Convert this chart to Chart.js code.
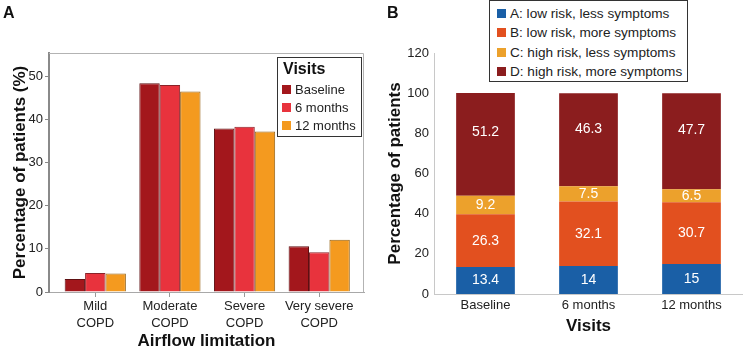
<!DOCTYPE html>
<html>
<head>
<meta charset="utf-8">
<script src="https://cdn.jsdelivr.net/npm/chart.js@4/dist/chart.umd.min.js"></script>
<style>
  body { margin: 0; width: 743px; height: 348px; overflow: hidden; background: #fff; font-family: "Liberation Sans", Arial, sans-serif; color: #222; }
  .panel { position: absolute; top: 0; height: 348px; }
  .tag { position: absolute; font-weight: bold; font-size: 16px; line-height: 16px; color: #111; }
  .legend { position: absolute; background: #fff; border: 1px solid #333; box-sizing: border-box; }
  .row { display: flex; align-items: center; white-space: nowrap; }
  .sw { display: inline-block; width: 9px; height: 9px; }
</style>
</head>
<body>
<div class="panel" style="left:0;width:370px"><canvas id="chartA" width="370" height="348"></canvas></div>
<div class="panel" style="left:370px;width:373px"><canvas id="chartB" width="373" height="348"></canvas></div>
<div class="tag" style="left:3px;top:5px">A</div>
<div class="tag" style="left:387px;top:5px">B</div>
<div class="legend" id="legendA" style="left:277px;top:57px;width:85px;height:80px;padding:0 0 1px 4px"></div>
<div class="legend" id="legendB" style="left:489px;top:0px;width:199px;height:82px;padding:3px 0 0 7px"></div>
<script>
// === DATA ===
const airflowCats = [['Mild', 'COPD'], ['Moderate', 'COPD'], ['Severe', 'COPD'], ['Very severe', 'COPD']];
const visitNames = ['Baseline', '6 months', '12 months'];
const airflowBaseline = [3.0, 48.4, 37.9, 10.6];
const airflow6m = [4.4, 48.0, 38.3, 9.2];
const airflow12m = [4.3, 46.5, 37.2, 12.1];

const groupNames = ['A: low risk, less symptoms', 'B: low risk, more symptoms', 'C: high risk, less symptoms', 'D: high risk, more symptoms'];
const groupA = [13.4, 14, 15];
const groupB = [26.3, 32.1, 30.7];
const groupC = [9.2, 7.5, 6.5];
const groupD = [51.2, 46.3, 47.7];

const visitColors = ['#a3171c', '#e8333d', '#f49a1f'];
const visitBorders = ['#5e1012', '#8a2228', '#946014'];
const groupColors = ['#1a5fa6', '#e2501f', '#eca12c', '#8b1d1e'];

const FONT = '"Liberation Sans", Arial, sans-serif';
const TXT = '#222';

// === LEGENDS (html) ===
function buildLegend(el, title, names, colors, rowH, fontSize) {
    if (title) {
        const t = document.createElement('div');
        t.textContent = title;
        t.style.cssText = 'font-weight:bold;font-size:16px;line-height:22px;color:#111;padding-left:1px';
        el.appendChild(t);
    }
    names.forEach((n, i) => {
        const r = document.createElement('div');
        r.className = 'row';
        r.style.height = rowH + 'px';
        r.style.fontSize = fontSize + 'px';
        r.innerHTML = `<span class="sw" style="background:${colors[i]}"></span><span style="margin-left:4px">${n}</span>`;
        el.appendChild(r);
    });
}
buildLegend(document.getElementById('legendA'), 'Visits', visitNames, visitColors, 18, 13);
buildLegend(document.getElementById('legendB'), null, groupNames, groupColors, 19.3, 13.6);

// === PANEL A ===
const frameA = {
    id: 'frameA',
    afterDraw(chart) {
        const a = chart.chartArea, c = chart.ctx;
        c.save();
        c.strokeStyle = '#b3b3b3';
        c.lineWidth = 1;
        c.beginPath();
        c.moveTo(a.left, a.top + 0.5);
        c.lineTo(a.right - 0.5, a.top + 0.5);
        c.lineTo(a.right - 0.5, a.bottom);
        c.stroke();
        c.restore();
    }
};

const seriesA = [airflowBaseline, airflow6m, airflow12m];
new Chart(document.getElementById('chartA'), {
    type: 'bar',
    data: {
        datasets: seriesA.map((vals, k) => ({
            label: visitNames[k],
            data: vals.map((v, i) => ({ x: i, y: v })),
            backgroundColor: visitColors[k],
            borderColor: visitBorders[k],
            borderWidth: 1,
            barPercentage: 1,
            categoryPercentage: 0.82
        }))
    },
    options: {
        responsive: false, animation: false,
        layout: { padding: { top: 53, right: 6, left: 0, bottom: 0 } },
        plugins: { legend: { display: false }, tooltip: { enabled: false } },
        scales: {
            x: {
                type: 'linear', min: -0.62, max: 3.6, offset: false,
                afterBuildTicks: s => { s.ticks = airflowCats.map((_, i) => ({ value: i })); },
                afterFit: s => { s.height = 56; },
                grid: { offset: false, drawOnChartArea: false, drawTicks: true, tickLength: 5, color: '#999' },
                border: { color: '#a8a8a8', width: 1 },
                ticks: { color: TXT, padding: 1, maxRotation: 0, autoSkip: false, font: { family: FONT, size: 13, lineHeight: 1.3 }, callback: v => airflowCats[v] },
                title: { display: true, text: 'Airflow limitation', color: '#111', padding: { top: 0, bottom: -2 }, font: { family: FONT, size: 17, weight: 'bold', lineHeight: 1 } }
            },
            y: {
                min: 0, max: 55.4,
                afterBuildTicks: s => { s.ticks = s.ticks.filter(t => t.value % 10 === 0); },
                afterFit: s => { s.width = 49; },
                grid: { drawOnChartArea: false, drawTicks: true, tickLength: 4, color: '#888' },
                border: { color: '#8a8a8a', width: 2 },
                ticks: { stepSize: 10, color: TXT, padding: 2, font: { family: FONT, size: 13 } },
                title: { display: true, text: 'Percentage of patients (%)', color: '#111', padding: { top: 10, bottom: 0 }, font: { family: FONT, size: 17, weight: 'bold' } }
            }
        }
    },
    plugins: [frameA]
});

// === PANEL B ===
// value labels: centred in each segment, top segment label sits higher
const segLabels = {
    id: 'segLabels',
    afterDatasetsDraw(chart) {
        const c = chart.ctx;
        const last = chart.data.datasets.length - 1;
        c.save();
        c.fillStyle = '#fff';
        c.font = `14px ${FONT}`;
        c.textAlign = 'center';
        c.textBaseline = 'middle';
        chart.data.datasets.forEach((ds, d) => {
            chart.getDatasetMeta(d).data.forEach((bar, i) => {
                const f = d === last ? 0.38 : 0.5;
                c.fillText(String(ds.data[i]), bar.x, bar.y + (bar.base - bar.y) * f);
            });
        });
        c.restore();
    }
};

const seriesB = [groupA, groupB, groupC, groupD];
new Chart(document.getElementById('chartB'), {
    type: 'bar',
    data: {
        labels: visitNames,
        datasets: seriesB.map((vals, k) => ({
            label: groupNames[k],
            data: vals,
            backgroundColor: groupColors[k],
            borderWidth: 0,
            barPercentage: 0.57,
            categoryPercentage: 1
        }))
    },
    options: {
        responsive: false, animation: false,
        layout: { padding: { top: 53, right: 0, left: 0, bottom: 0 } },
        plugins: { legend: { display: false }, tooltip: { enabled: false } },
        scales: {
            x: {
                stacked: true,
                afterFit: s => { s.height = 54; },
                grid: { display: false, drawTicks: false },
                border: { color: '#c8c8c8', width: 1 },
                ticks: { color: TXT, padding: 4, font: { family: FONT, size: 13 } },
                title: { display: true, text: 'Visits', color: '#111', padding: { top: 0, bottom: 11 }, font: { family: FONT, size: 17, weight: 'bold' } }
            },
            y: {
                stacked: true, min: 0, max: 120,
                afterFit: s => { s.width = 64; },
                grid: { display: false, drawTicks: false },
                border: { color: '#c8c8c8', width: 1 },
                ticks: { stepSize: 20, color: TXT, padding: 5, font: { family: FONT, size: 13 } },
                title: { display: true, text: 'Percentage of patients', color: '#111', padding: { top: 15, bottom: 0 }, font: { family: FONT, size: 17, weight: 'bold' } }
            }
        }
    },
    plugins: [segLabels]
});
</script>
</body>
</html>
